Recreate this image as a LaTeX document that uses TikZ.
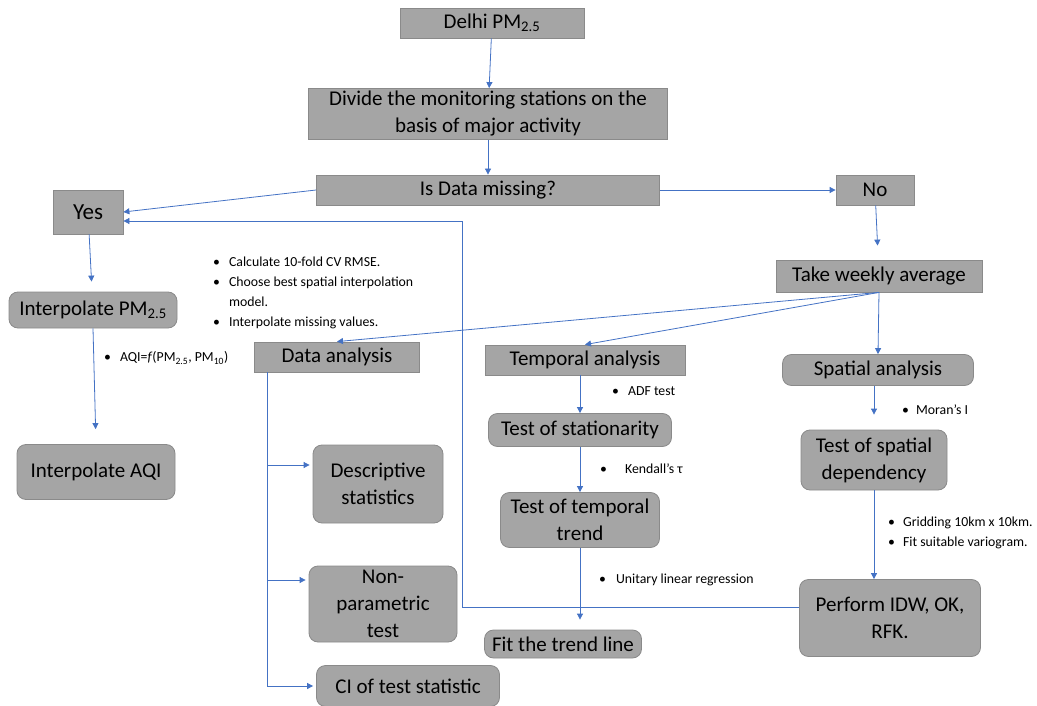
\documentclass[tikz,border=0pt]{standalone}
\usepackage{fontspec}
\setmainfont{Carlito}
\usepackage{tikz}
\usetikzlibrary{arrows.meta,positioning,calc}
\definecolor{boxfill}{HTML}{A5A5A5}
\definecolor{boxline}{HTML}{8A8A8A}
\definecolor{flowblue}{HTML}{4472C4}
\newcommand{\boxfont}{\fontsize{21}{27}\selectfont}
\newcommand{\notefont}{\fontsize{13.8}{20}\selectfont}
\newcommand{\pmsub}[1]{PM\textsubscript{#1}}
\tikzset{
  flowbox/.style={rectangle,draw=boxline,line width=0.8pt,fill=boxfill,
    text=black,align=center,font=\boxfont,inner sep=2pt},
  flowround/.style={flowbox,rounded corners=9pt},
  flowarr/.style={-{Triangle[length=6pt,width=6pt]},line width=0.8pt,color=flowblue},
  flowline/.style={line width=0.8pt,color=flowblue},
  flownote/.style={anchor=west,inner sep=0pt,align=left,font=\notefont},
}

\begin{document}
\begin{tikzpicture}[x=1pt,y=-1pt]
  \useasboundingbox (0,0) rectangle (1037,706);

  % top of the flow
  \node[flowbox,minimum width=184pt,minimum height=30pt] (delhi) at (492,23) {Delhi \pmsub{2.5}};
  \node[flowbox,minimum width=359pt,minimum height=51pt] (divide) at (488,114) {Divide the monitoring stations on the\\basis of major activity};
  \node[flowbox,minimum width=343pt,minimum height=30pt] (miss) at (488,190) {Is Data missing?};
  \node[flowbox,minimum width=70pt,minimum height=44pt,font=\fontsize{23}{26}\selectfont] (yes) at (88,212) {Yes};
  \node[flowbox,minimum width=78pt,minimum height=30pt] (no) at (875,190) {No};
  \node[flowbox,minimum width=206pt,minimum height=32pt] (take) at (879,276) {Take weekly average};

  % missing data branch
  \node[flowround,minimum width=168pt,minimum height=36pt] (interppm) at (93,310) {Interpolate \pmsub{2.5}};
  \node[flowround,minimum width=158pt,minimum height=55pt] (aqi) at (96,472) {Interpolate AQI};

  % analysis
  \node[flowbox,minimum width=165pt,minimum height=30pt] (data) at (337,357) {Data analysis};
  \node[flowbox,minimum width=200pt,minimum height=30pt] (temporal) at (585,360) {Temporal analysis};
  \node[flowround,minimum width=191pt,minimum height=31pt] (spatial) at (878,370) {Spatial analysis};

  \node[flowround,minimum width=130pt,minimum height=78pt] (desc) at (378,484) {Descriptive\\statistics};
  \node[flowround,minimum width=148pt,minimum height=76pt] (nonpar) at (383,604) {Non-\\parametric\\test};
  \node[flowround,minimum width=183pt,minimum height=41pt] (ci) at (408,686) {CI of test statistic};

  \node[flowround,minimum width=183pt,minimum height=33pt] (station) at (580,430) {Test of stationarity};
  \node[flowround,minimum width=159pt,minimum height=55pt] (trend) at (580,520) {Test of temporal\\trend};
  \node[flowround,minimum width=157pt,minimum height=28pt] (fitline) at (563,644) {Fit the trend line};

  \node[flowround,minimum width=146pt,minimum height=60pt] (spdep) at (874,460) {Test of spatial\\dependency};
  \node[flowround,minimum width=181pt,minimum height=77pt] (perform) at (890,618) {Perform IDW, OK,\\RFK.};

  % notes
  \node[flownote,anchor=north west] (cvnote) at (213,252) {\begin{tabular}{@{}l@{\hspace{9pt}}l@{}}
    \textbullet & Calculate 10-fold CV RMSE.\\
    \textbullet & Choose best spatial interpolation\\
     & model.\\
    \textbullet & Interpolate missing values.
  \end{tabular}};
  \node[flownote] (aqinote) at (104,358) {\textbullet\hspace{9pt}AQI=\textit{f}(\pmsub{2.5}, \pmsub{10})};
  \node[flownote] (adfnote) at (612,391) {\textbullet\hspace{9pt}ADF test};
  \node[flownote] (kendnote) at (600,469) {\textbullet\hspace{18pt}Kendall’s τ};
  \node[flownote] (morannote) at (902,410) {\textbullet\hspace{7pt}Moran’s I};
  \node[flownote] (gridnote) at (888,533) {\textbullet\hspace{8pt}Gridding 10km x 10km.\\\textbullet\hspace{8pt}Fit suitable variogram.};
  \node[flownote] (regnote) at (599,580) {\textbullet\hspace{10pt}Unitary linear regression};

  \coordinate (loopbend) at (462,221);
  \coordinate (trunk) at (267,372);

  \draw[flowarr] (delhi) -- (divide);
  \draw[flowarr] (divide) -- (miss);
  \draw[flowarr] (miss.west) -- (yes.east);
  \draw[flowarr] (miss) -- (no);
  \draw[flowarr,shorten >=14pt] (no) -- (take);
  \draw[flowarr,shorten >=10pt] (yes) -- (interppm);
  \draw[flowarr,shorten >=15pt] (interppm.south) -- (aqi.north);
  \draw[flowarr] (take.south) -- (data.north);
  \draw[flowarr] (take.south) -- (temporal.north);
  \draw[flowarr] (take.south) -- (spatial.north);
  \draw[flowarr] (temporal.south -| station) -- (station);
  \draw[flowarr] (station) -- (trend);
  \draw[flowarr,shorten >=10pt] (trend) -- (fitline.north -| trend);
  \draw[flowarr,shorten >=15pt] (spatial.south -| spdep) -- (spdep);
  \draw[flowarr] (spdep) -- (perform.north -| spdep);
  \draw[flowarr,shorten >=3pt] (trunk) |- ([yshift=19pt]desc.west);
  \draw[flowarr,shorten >=3pt] (trunk) |- ([yshift=24pt]nonpar.west);
  \draw[flowarr,shorten >=3pt] (trunk) |- (ci.west);
  \draw[flowarr] ([yshift=11pt]perform.west) -| (loopbend) -- ([yshift=-9pt]yes.east);
\end{tikzpicture}
\end{document}
